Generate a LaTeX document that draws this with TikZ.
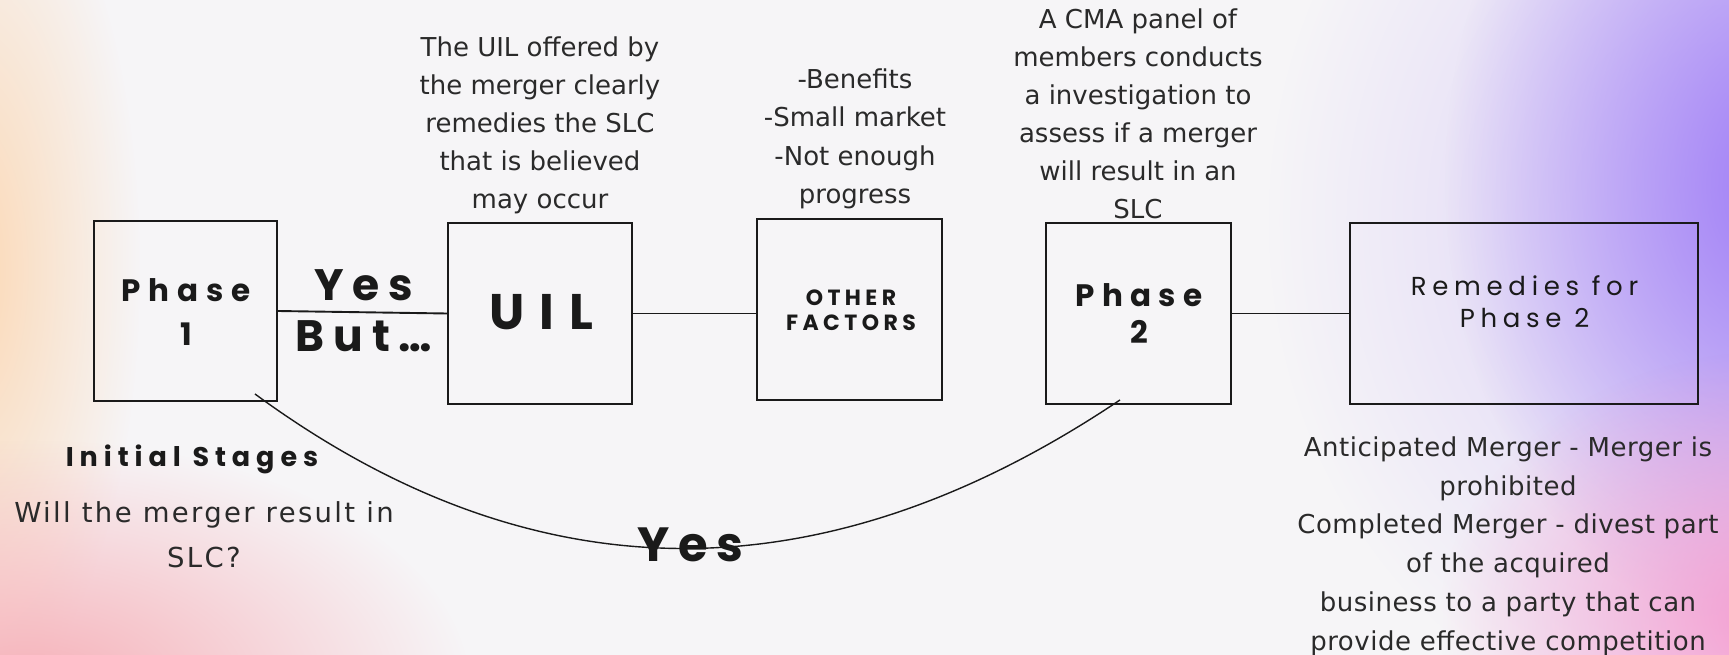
\documentclass[tikz,border=0pt]{standalone}
\usepackage{fontspec}
\usetikzlibrary{fadings}
\tikzfading[name=glow, inner color=transparent!0, outer color=transparent!100]
\newfontfamily\bodyf{DejaVu Sans}
\newfontfamily\headf{Poppins}
\definecolor{bgbase}{HTML}{F6F5F7}
\definecolor{peach}{HTML}{FCD8B4}
\definecolor{pinkL}{HTML}{F7B0B8}
\definecolor{purp}{HTML}{9F7DF6}
\definecolor{lav}{HTML}{D9CCF8}
\definecolor{pinkR}{HTML}{F59CD0}
\definecolor{ink}{HTML}{1A1A1A}
\definecolor{txt}{HTML}{2A2A2A}
\tikzset{
  stagebox/.style={draw=ink, line width=1.9pt, inner sep=0pt},
  link/.style={draw=ink, line width=1.9pt},
  arc/.style={draw=ink, line width=1.4pt},
  body/.style={text=txt, inner sep=0pt, anchor=base, align=center},
  head/.style={text=ink, inner sep=0pt, anchor=base, align=center},
}
\begin{document}
\begin{tikzpicture}[x=1pt,y=-1pt]
\useasboundingbox (0,0) rectangle (1729,655);
% background
\fill[bgbase] (0,0) rectangle (1729,655);
\fill[peach, path fading=glow] (-30,270) ellipse [x radius=170pt, y radius=440pt];
\fill[pinkL, path fading=glow] (30,690) ellipse [x radius=440pt, y radius=250pt];
\fill[lav, path fading=glow] (1729,220) ellipse [x radius=460pt, y radius=520pt];
\fill[purp, path fading=glow] (1785,180) ellipse [x radius=340pt, y radius=460pt];
\fill[pinkR, path fading=glow] (1780,620) ellipse [x radius=340pt, y radius=270pt];

% boxes
\node[stagebox, minimum width=183pt, minimum height=180pt] (p1) at (185.5,311) {};
\node[stagebox, minimum width=184pt, minimum height=181pt] (uil) at (540,313.5) {};
\node[stagebox, minimum width=185pt, minimum height=181pt] (of) at (849.5,309.5) {};
\node[stagebox, minimum width=185pt, minimum height=181pt] (p2) at (1138.5,313.5) {};
\node[stagebox, minimum width=348pt, minimum height=181pt] (rem) at (1524,313.5) {};

% connectors
\draw[link] (p1.east) -- (uil.west);
\draw[link] (uil.east) -- (uil.east -| of.west);
\draw[link] (p2.east) -- (rem.west);
\coordinate (cs) at ([shift={(-23,-8)}]p1.south east);
\coordinate (ce) at ([shift={(-18.5,-5)}]p2.south);
\draw[arc] (cs) .. controls (533,598) and (822,600) .. (ce);

% headings in boxes (base anchor = last line baseline)
\node[head, font=\headf\bfseries\addfontfeatures{LetterSpace=26}\fontsize{31}{43.3}\selectfont] (h1) at (186,345) {Phase\\1};
\node[head, font=\headf\bfseries\addfontfeatures{LetterSpace=20}\fontsize{44}{51.7}\selectfont] (hyb) at (364,351.7) {Yes\\But…};
\node[head, font=\headf\bfseries\addfontfeatures{LetterSpace=30}\fontsize{50}{50}\selectfont] (huil) at (541,329.3) {UIL};
\node[head, font=\headf\bfseries\addfontfeatures{LetterSpace=20}\fontsize{22}{25}\selectfont] (hof) at (851,330) {OTHER\\FACTORS};
\node[head, font=\headf\bfseries\addfontfeatures{LetterSpace=24}\fontsize{31}{37}\selectfont] (h2) at (1139,343) {Phase\\2};
\node[head, font=\headf\addfontfeatures{LetterSpace=22}\fontsize{26}{32}\selectfont] (hrem) at (1524.5,327) {Remedies for\\Phase 2};
\node[head, font=\headf\bfseries\addfontfeatures{LetterSpace=22}\fontsize{27}{30}\selectfont] (hinit) at (192,466.7) {Initial Stages};
\node[head, font=\headf\bfseries\addfontfeatures{LetterSpace=18}\fontsize{48}{50}\selectfont] (hyes) at (690.5,561) {Yes};

% descriptive texts (base anchor = last line baseline)
\node[body, font=\bodyf\fontsize{26}{37.8}\selectfont] (tuil) at (540,208)
  {The UIL offered by\\the merger clearly\\remedies the SLC\\that is believed\\may occur};
\node[body, font=\bodyf\fontsize{26}{38.6}\selectfont] (tof) at (855,204)
  {-Benefits\\-Small market\\-Not enough\\progress};
\node[body, font=\bodyf\fontsize{26}{38}\selectfont] (tcma) at (1138,218.3)
  {A CMA panel of\\members conducts\\a investigation to\\assess if a merger\\will result in an\\SLC};
\node[body, font=\bodyf\addfontfeatures{LetterSpace=8.5}\fontsize{27.5}{44.5}\selectfont] (tq) at (204,567)
  {Will the merger result in\\SLC?};
\node[body, font=\bodyf\addfontfeatures{LetterSpace=2}\fontsize{26}{38.7}\selectfont] (trem) at (1508,650)
  {Anticipated Merger - Merger is\\prohibited\\Completed Merger - divest part\\of the acquired\\business to a party that can\\provide effective competition};
\end{tikzpicture}
\end{document}
